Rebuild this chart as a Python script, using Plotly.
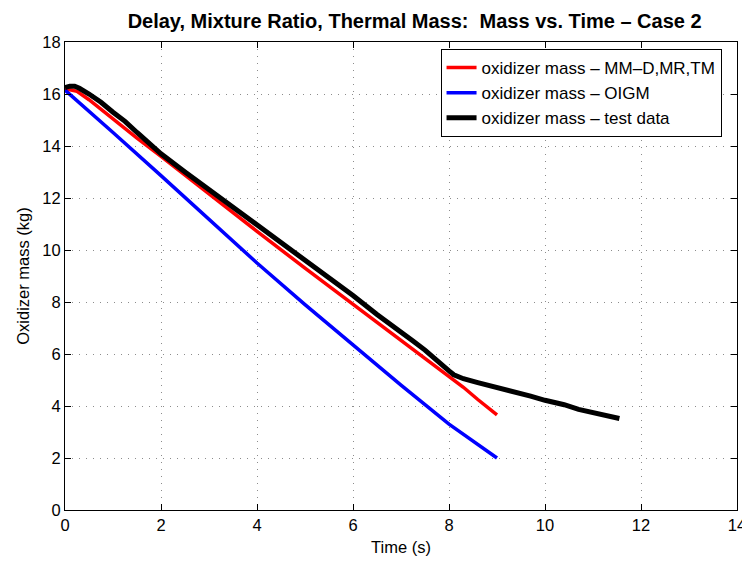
import plotly.graph_objects as go

# Model MM-D,MR,TM (red)
t_red = [0.0, 0.25, 0.5, 1.0, 1.5, 2.0, 3.0, 4.0, 5.0, 6.0, 7.0, 8.0, 8.3, 8.6, 9.0]
m_red = [16.2, 16.1, 15.78, 15.02, 14.3, 13.6, 12.15, 10.72, 9.3, 7.92, 6.53, 5.15, 4.72, 4.25, 3.66]

# OIGM (blue)
t_blue = [0.0, 0.5, 1.0, 2.0, 3.0, 4.0, 5.0, 6.0, 7.0, 8.0, 8.5, 9.0]
m_blue = [16.15, 15.35, 14.52, 12.86, 11.17, 9.5, 7.9, 6.35, 4.8, 3.3, 2.65, 2.0]

# Test data (black)
t_test = [0.0, 0.1, 0.2, 0.3, 0.5, 0.75, 1.0, 1.25, 1.5, 1.75, 2.0, 2.5, 3.0, 3.5, 4.0,
          4.5, 5.0, 5.5, 6.0, 6.5, 7.0, 7.25, 7.5, 7.75, 8.0, 8.1, 8.3, 8.6, 9.0,
          9.3, 9.7, 10.0, 10.4, 10.7, 11.0, 11.3, 11.55]
m_test = [16.25, 16.3, 16.3, 16.22, 16.0, 15.68, 15.3, 14.95, 14.52, 14.12, 13.7, 13.0, 12.32, 11.65, 10.95,
          10.28, 9.6, 8.95, 8.25, 7.52, 6.8, 6.5, 6.15, 5.78, 5.35, 5.2, 5.05, 4.9, 4.72,
          4.57, 4.38, 4.22, 4.05, 3.87, 3.73, 3.6, 3.52]

x_ticks = [0, 2, 4, 6, 8, 10, 12, 14]
y_ticks = [0, 2, 4, 6, 8, 10, 12, 14, 16, 18]

FONT = "Liberation Sans, Arial, sans-serif"

fig = go.Figure()
fig.add_trace(go.Scatter(x=t_red, y=m_red, mode="lines", name="oxidizer mass \u2013 MM\u2013D,MR,TM",
                         line=dict(color="#ff0000", width=3.5)))
fig.add_trace(go.Scatter(x=t_blue, y=m_blue, mode="lines", name="oxidizer mass \u2013 OIGM",
                         line=dict(color="#0000ff", width=3.5)))
fig.add_trace(go.Scatter(x=t_test, y=m_test, mode="lines", name="oxidizer mass \u2013 test data",
                         line=dict(color="#000000", width=5)))

axis_common = dict(
    showline=True, linecolor="black", linewidth=1, mirror="ticks",
    ticks="inside", ticklen=6, tickcolor="black",
    showgrid=True, gridcolor="#8c8c8c", griddash="1px,6px", gridwidth=1,
    zeroline=False, automargin=False,
    tickfont=dict(family=FONT, size=16.5, color="black"),
)

# The page body has an 8px default margin; the figure is sized to fill the rest.
fig.update_layout(
    width=742, height=554,
    margin=dict(l=57, r=13, t=34, b=52),
    paper_bgcolor="white", plot_bgcolor="white",
    title=dict(text="<b>Delay, Mixture Ratio, Thermal Mass:  Mass vs. Time \u2013 Case 2</b>",
               x=0.548, xanchor="center", y=0.977, yanchor="middle",
               font=dict(family=FONT, size=20, color="black")),
    xaxis=dict(range=[0, 14], tickvals=x_ticks, **axis_common,
               title=dict(text="Time (s)", standoff=8,
                          font=dict(family=FONT, size=16.5, color="black"))),
    yaxis=dict(range=[0, 18], tickvals=y_ticks, **axis_common,
               title=dict(text="Oxidizer mass (kg)", standoff=8,
                          font=dict(family=FONT, size=16.5, color="black"))),
    legend=dict(x=0.977, y=0.985, xanchor="right", yanchor="top",
                bgcolor="white", bordercolor="black", borderwidth=1,
                font=dict(family=FONT, size=17, color="black"),
                tracegroupgap=0, itemwidth=30),
    showlegend=True,
)

fig.write_html("out.html")
